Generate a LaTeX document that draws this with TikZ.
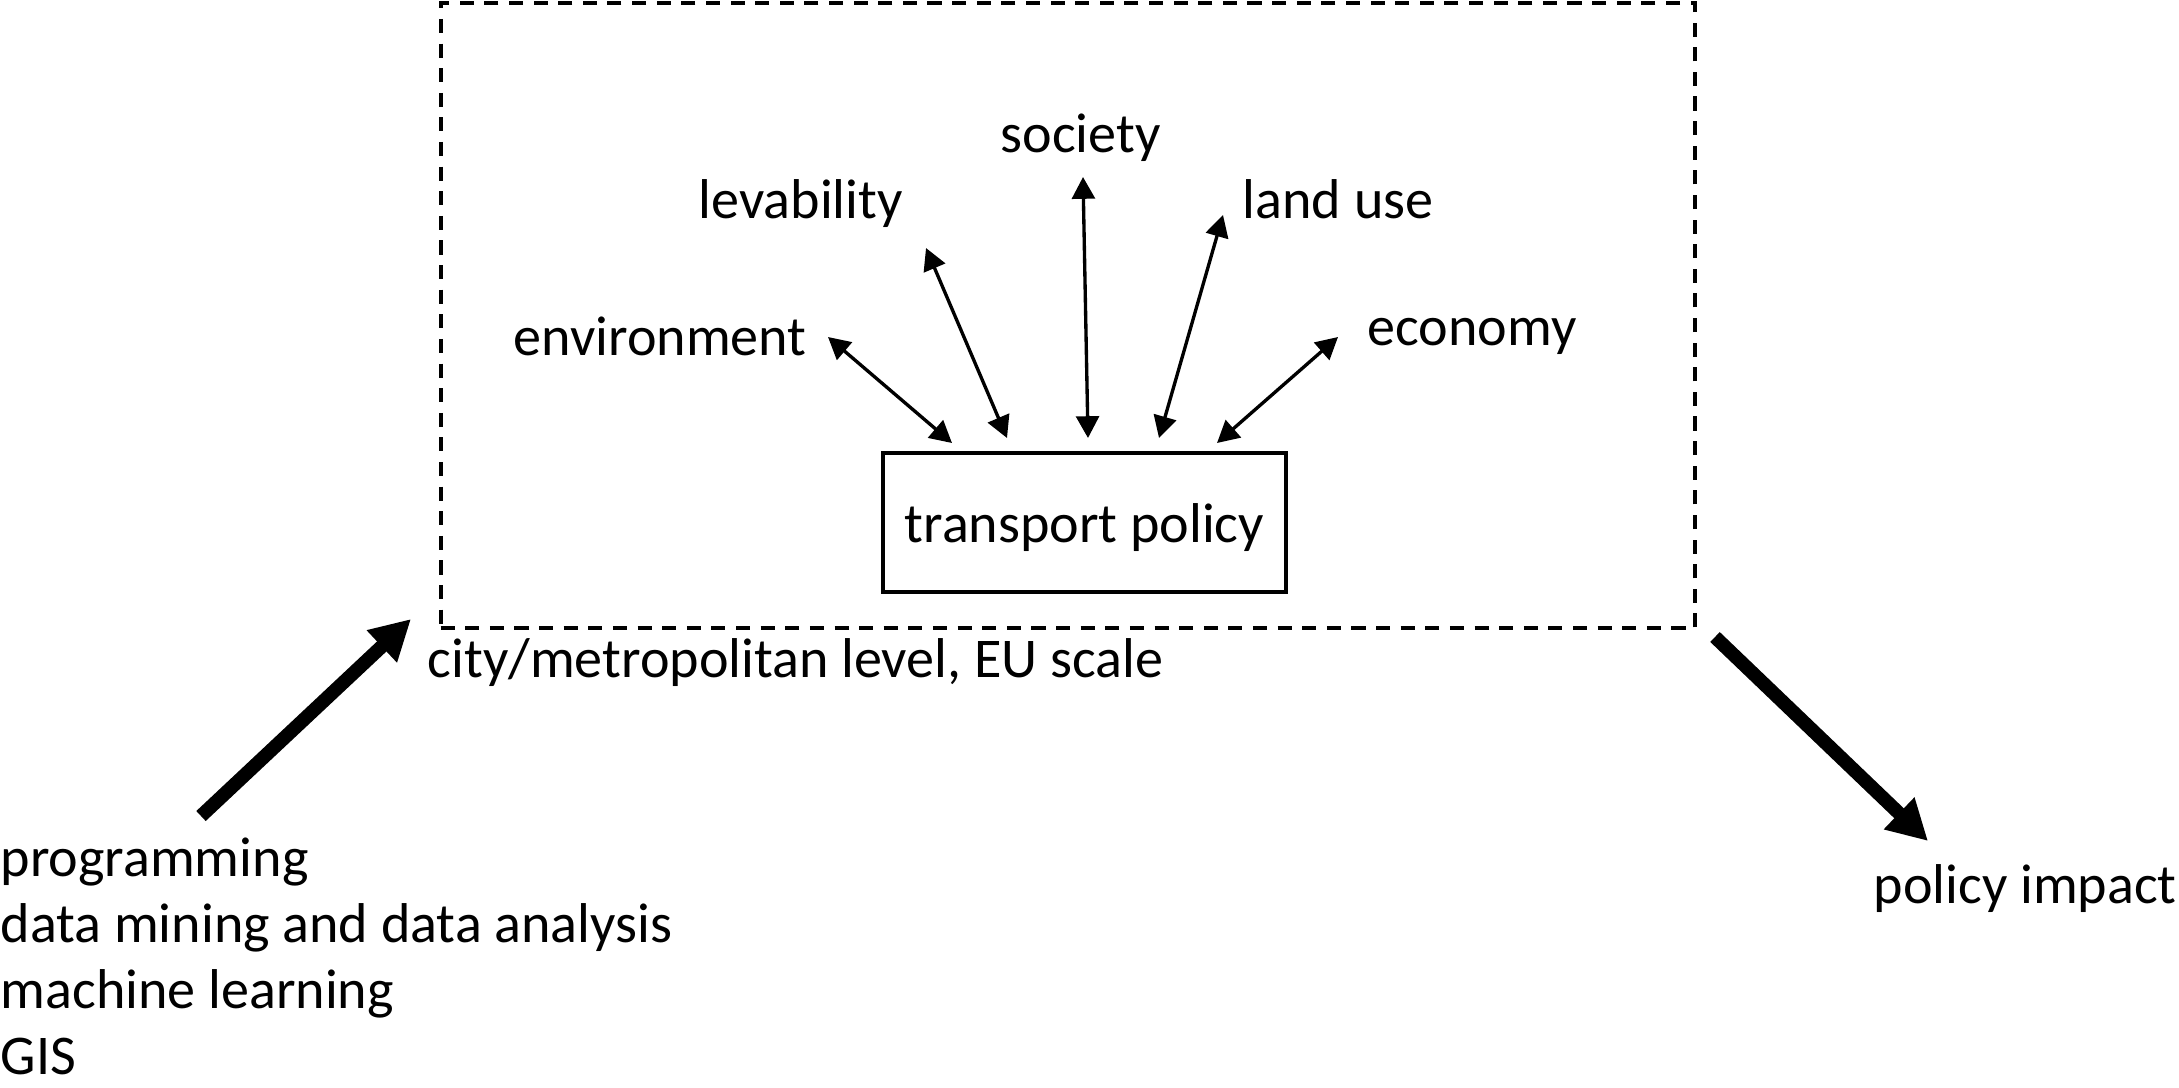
\documentclass[tikz,border=0pt]{standalone}
\usepackage{fontspec}
\setmainfont{Carlito}
\usetikzlibrary{arrows.meta}
\tikzset{
  lbl/.style={anchor=base west, inner sep=0pt, font=\fontsize{15.95pt}{19pt}\selectfont},
  thinarrow/.style={line width=0.95pt, {Triangle[length=6.2pt,width=6.5pt]}-{Triangle[length=6.2pt,width=6.5pt]}},
  bigarrow/.style={line width=3.9pt, -{Triangle[length=11.4pt,width=11.8pt]}},
  frame/.style={draw, line width=1.2pt, dash pattern=on 4pt off 3pt},
  policybox/.style={draw, line width=1pt, rectangle, minimum width=4.03cm, minimum height=1.39cm,
    inner sep=0pt, text height=0.55cm, text depth=0.16cm, font=\fontsize{15.95pt}{19pt}\selectfont}
}
\begin{document}
\begin{tikzpicture}[x=0.01cm, y=-0.01cm]
\useasboundingbox (0,0) rectangle (2179,1087);
% dashed frame
\node[frame, rectangle, inner sep=0pt, minimum width=12.54cm, minimum height=6.25cm] (frame) at (1068,315.5) {};
% central box
\node[policybox] (tp) at (1084.5,522.5) {transport policy};
% labels
\node[lbl] (soc) at (1000,152) {society};
\node[lbl] (lev) at (698,218) {levability};
\node[lbl] (land) at (1242,218) {land use};
\node[lbl] (env) at (513,355) {environment};
\node[lbl] (eco) at (1367,345) {economy};
\node[lbl] (city) at (427,677) {city/metropolitan level, EU scale};
\node[lbl] (impact) at (1873,903) {policy impact};
\node[lbl] (l1) at (0,876) {programming};
\node[lbl] (l2) at (0,942) {data mining and data analysis};
\node[lbl] (l3) at (0,1008) {machine learning};
\node[lbl] (l4) at (0,1074) {GIS};
% arrow end points
\coordinate (envA) at (828,337);  \coordinate (envB) at (952,443);
\coordinate (levA) at (926,248);  \coordinate (levB) at (1007,438);
\coordinate (socA) at (1083,177); \coordinate (socB) at (1088,438);
\coordinate (landA) at (1223,215); \coordinate (landB) at (1159,438);
\coordinate (ecoA) at (1338,337); \coordinate (ecoB) at (1217,443);
\coordinate (inA) at (201,816); \coordinate (inB) at (411,619);
\coordinate (outA) at (1715,637); \coordinate (outB) at (1928,841);
% thin arrows
\draw[thinarrow] (envA) -- (envB);
\draw[thinarrow] (levA) -- (levB);
\draw[thinarrow] (socA) -- (socB);
\draw[thinarrow] (landA) -- (landB);
\draw[thinarrow] (ecoA) -- (ecoB);
% big arrows
\draw[bigarrow] (inA) -- (inB);
\draw[bigarrow] (outA) -- (outB);
\end{tikzpicture}
\end{document}
